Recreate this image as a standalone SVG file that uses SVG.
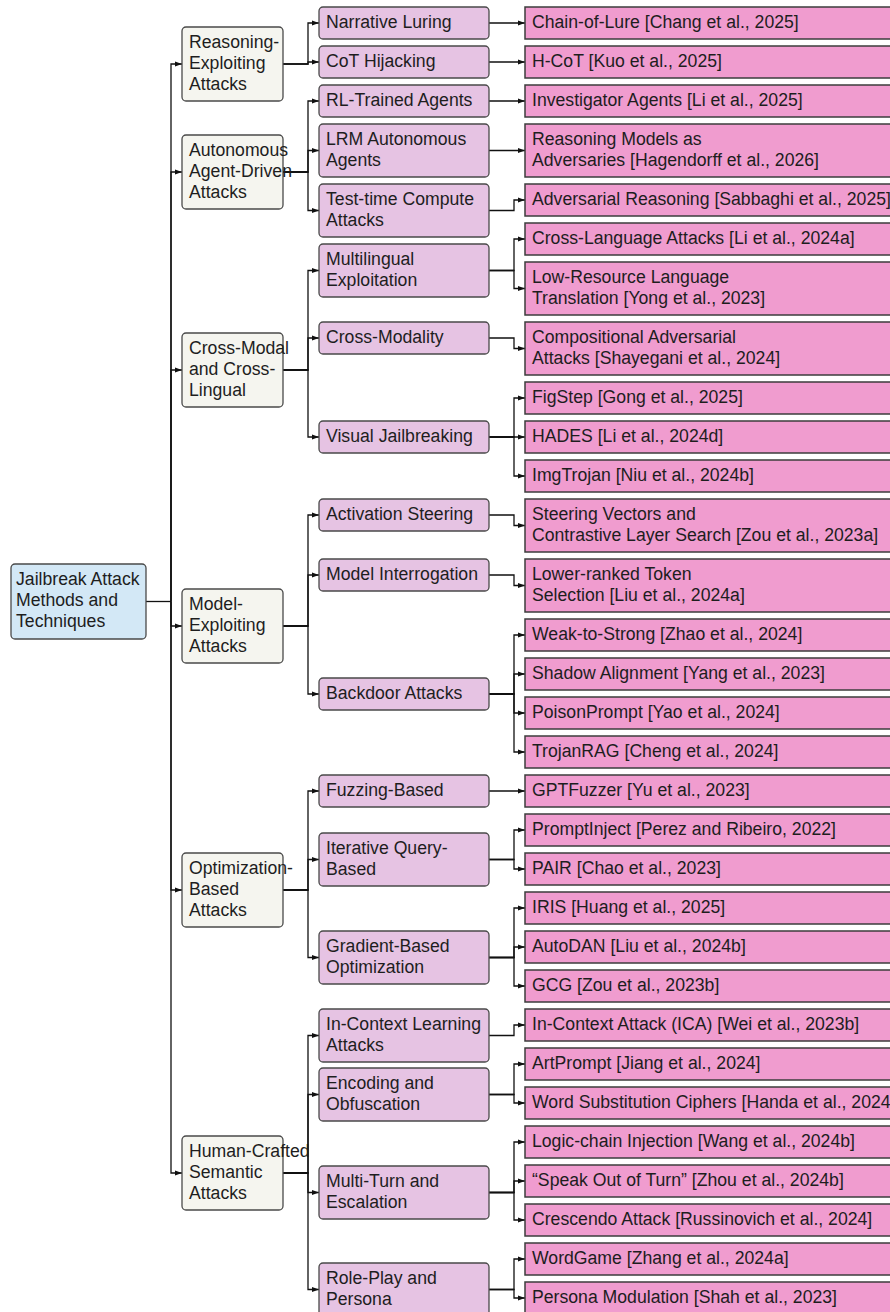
<svg xmlns="http://www.w3.org/2000/svg" width="890" height="1312" viewBox="0 0 890 1312">
<defs>
<marker id="ah" markerWidth="7" markerHeight="6" refX="7" refY="3" orient="auto" markerUnits="userSpaceOnUse"><path d="M0,0.5 L7,3 L0,5.5 z" fill="#111"/></marker>
<style>
text{font-family:"Liberation Sans",Arial,Helvetica,sans-serif;font-size:17.65px;fill:#1e1e1e}
rect{stroke:#4a4a4a;stroke-width:1.3}
.root rect{fill:#d3e8f6}
.l1 rect{fill:#f5f5ef}
.l2 rect{fill:#e6c3e3}
.leaf rect{fill:#f09ccf;stroke:#3c3c3c;stroke-width:1.5}
#connectors path{fill:none;stroke:#111;stroke-width:1.3;marker-end:url(#ah)}
#connectors path.nm{marker-end:none}
</style>
</defs>
<rect width="890" height="1312" fill="#fff" style="stroke:none"/>
<g id="connectors">
<path class="nm" d="M146,601.5 H171"/>
<path d="M171,601.5 V64 H182"/>
<path d="M171,601.5 V172 H182"/>
<path d="M171,601.5 V370 H182"/>
<path d="M171,601.5 V626 H182"/>
<path d="M171,601.5 V890 H182"/>
<path d="M171,601.5 V1173 H182"/>
<path d="M283,64 H308 V23 H319"/>
<path d="M283,64 H308 V62 H319"/>
<path d="M283,172 H308 V101 H319"/>
<path d="M283,172 H308 V150.5 H319"/>
<path d="M283,172 H308 V210.5 H319"/>
<path d="M283,370 H308 V270.5 H319"/>
<path d="M283,370 H308 V338 H319"/>
<path d="M283,370 H308 V437 H319"/>
<path d="M283,626 H308 V515 H319"/>
<path d="M283,626 H308 V575 H319"/>
<path d="M283,626 H308 V694 H319"/>
<path d="M283,890 H308 V791 H319"/>
<path d="M283,890 H308 V859.5 H319"/>
<path d="M283,890 H308 V957.5 H319"/>
<path d="M283,1173 H308 V1035.5 H319"/>
<path d="M283,1173 H308 V1094.5 H319"/>
<path d="M283,1173 H308 V1192.5 H319"/>
<path d="M283,1173 H308 V1289.5 H319"/>
<path d="M489,23 H514 V23 H525"/>
<path d="M489,62 H514 V62 H525"/>
<path d="M489,101 H514 V101 H525"/>
<path d="M489,150.5 H514 V150.5 H525"/>
<path d="M489,210.5 H514 V200 H525"/>
<path d="M489,270.5 H514 V239 H525"/>
<path d="M489,270.5 H514 V288.5 H525"/>
<path d="M489,338 H514 V348.5 H525"/>
<path d="M489,437 H514 V398 H525"/>
<path d="M489,437 H514 V437 H525"/>
<path d="M489,437 H514 V476 H525"/>
<path d="M489,515 H514 V525.5 H525"/>
<path d="M489,575 H514 V585.5 H525"/>
<path d="M489,694 H514 V635 H525"/>
<path d="M489,694 H514 V674 H525"/>
<path d="M489,694 H514 V713 H525"/>
<path d="M489,694 H514 V752 H525"/>
<path d="M489,791 H514 V791 H525"/>
<path d="M489,859.5 H514 V830 H525"/>
<path d="M489,859.5 H514 V869 H525"/>
<path d="M489,957.5 H514 V908 H525"/>
<path d="M489,957.5 H514 V947 H525"/>
<path d="M489,957.5 H514 V986 H525"/>
<path d="M489,1035.5 H514 V1025 H525"/>
<path d="M489,1094.5 H514 V1064 H525"/>
<path d="M489,1094.5 H514 V1103 H525"/>
<path d="M489,1192.5 H514 V1142 H525"/>
<path d="M489,1192.5 H514 V1181 H525"/>
<path d="M489,1192.5 H514 V1220 H525"/>
<path d="M489,1289.5 H514 V1259 H525"/>
<path d="M489,1289.5 H514 V1298 H525"/>
</g>
<g id="root" class="root"><rect x="11" y="564" width="135" height="75" rx="4"/><text x="16" y="585.3">Jailbreak Attack</text><text x="16" y="605.9">Methods and</text><text x="16" y="626.5">Techniques</text></g>
<g id="l1-reasoning" class="l1"><rect x="182" y="27" width="101" height="74" rx="4"/><text x="189" y="48.3">Reasoning-</text><text x="189" y="68.9">Exploiting</text><text x="189" y="89.5">Attacks</text></g>
<g id="l1-autonomous" class="l1"><rect x="182" y="135" width="101" height="74" rx="4"/><text x="189" y="156.3">Autonomous</text><text x="189" y="176.9">Agent-Driven</text><text x="189" y="197.5">Attacks</text></g>
<g id="l1-crossmodal" class="l1"><rect x="182" y="333" width="101" height="74" rx="4"/><text x="189" y="354.3">Cross-Modal</text><text x="189" y="374.9">and Cross-</text><text x="189" y="395.5">Lingual</text></g>
<g id="l1-model" class="l1"><rect x="182" y="589" width="101" height="74" rx="4"/><text x="189" y="610.3">Model-</text><text x="189" y="630.9">Exploiting</text><text x="189" y="651.5">Attacks</text></g>
<g id="l1-optim" class="l1"><rect x="182" y="853" width="101" height="74" rx="4"/><text x="189" y="874.3">Optimization-</text><text x="189" y="894.9">Based</text><text x="189" y="915.5">Attacks</text></g>
<g id="l1-human" class="l1"><rect x="182" y="1136" width="101" height="74" rx="4"/><text x="189" y="1157.3">Human-Crafted</text><text x="189" y="1177.9">Semantic</text><text x="189" y="1198.5">Attacks</text></g>
<g id="l2-narrative" class="l2"><rect x="319" y="7" width="170" height="32" rx="4"/><text x="326" y="28.3">Narrative Luring</text></g>
<g id="l2-cot" class="l2"><rect x="319" y="46" width="170" height="32" rx="4"/><text x="326" y="67.3">CoT Hijacking</text></g>
<g id="l2-rl" class="l2"><rect x="319" y="85" width="170" height="32" rx="4"/><text x="326" y="106.3">RL-Trained Agents</text></g>
<g id="l2-lrm" class="l2"><rect x="319" y="124" width="170" height="53" rx="4"/><text x="326" y="145.3">LRM Autonomous</text><text x="326" y="165.9">Agents</text></g>
<g id="l2-testtime" class="l2"><rect x="319" y="184" width="170" height="53" rx="4"/><text x="326" y="205.3">Test-time Compute</text><text x="326" y="225.9">Attacks</text></g>
<g id="l2-multilingual" class="l2"><rect x="319" y="244" width="170" height="53" rx="4"/><text x="326" y="265.3">Multilingual</text><text x="326" y="285.9">Exploitation</text></g>
<g id="l2-crossmodality" class="l2"><rect x="319" y="322" width="170" height="32" rx="4"/><text x="326" y="343.3">Cross-Modality</text></g>
<g id="l2-visual" class="l2"><rect x="319" y="421" width="170" height="32" rx="4"/><text x="326" y="442.3">Visual Jailbreaking</text></g>
<g id="l2-activation" class="l2"><rect x="319" y="499" width="170" height="32" rx="4"/><text x="326" y="520.3">Activation Steering</text></g>
<g id="l2-interrogation" class="l2"><rect x="319" y="559" width="170" height="32" rx="4"/><text x="326" y="580.3">Model Interrogation</text></g>
<g id="l2-backdoor" class="l2"><rect x="319" y="678" width="170" height="32" rx="4"/><text x="326" y="699.3">Backdoor Attacks</text></g>
<g id="l2-fuzzing" class="l2"><rect x="319" y="775" width="170" height="32" rx="4"/><text x="326" y="796.3">Fuzzing-Based</text></g>
<g id="l2-iterative" class="l2"><rect x="319" y="833" width="170" height="53" rx="4"/><text x="326" y="854.3">Iterative Query-</text><text x="326" y="874.9">Based</text></g>
<g id="l2-gradient" class="l2"><rect x="319" y="931" width="170" height="53" rx="4"/><text x="326" y="952.3">Gradient-Based</text><text x="326" y="972.9">Optimization</text></g>
<g id="l2-icl" class="l2"><rect x="319" y="1009" width="170" height="53" rx="4"/><text x="326" y="1030.3">In-Context Learning</text><text x="326" y="1050.9">Attacks</text></g>
<g id="l2-encoding" class="l2"><rect x="319" y="1068" width="170" height="53" rx="4"/><text x="326" y="1089.3">Encoding and</text><text x="326" y="1109.9">Obfuscation</text></g>
<g id="l2-multiturn" class="l2"><rect x="319" y="1166" width="170" height="53" rx="4"/><text x="326" y="1187.3">Multi-Turn and</text><text x="326" y="1207.9">Escalation</text></g>
<g id="l2-roleplay" class="l2"><rect x="319" y="1263" width="170" height="53" rx="4"/><text x="326" y="1284.3">Role-Play and</text><text x="326" y="1304.9">Persona</text></g>
<g id="leaf-chainoflure" class="leaf"><rect x="525" y="7" width="380" height="32"/><text x="532" y="28.3">Chain-of-Lure [Chang et al., 2025]</text></g>
<g id="leaf-hcot" class="leaf"><rect x="525" y="46" width="380" height="32"/><text x="532" y="67.3">H-CoT [Kuo et al., 2025]</text></g>
<g id="leaf-investigator" class="leaf"><rect x="525" y="85" width="380" height="32"/><text x="532" y="106.3">Investigator Agents [Li et al., 2025]</text></g>
<g id="leaf-reasoningmodels" class="leaf"><rect x="525" y="124" width="380" height="53"/><text x="532" y="145.3">Reasoning Models as</text><text x="532" y="165.9">Adversaries [Hagendorff et al., 2026]</text></g>
<g id="leaf-advreasoning" class="leaf"><rect x="525" y="184" width="380" height="32"/><text x="532" y="205.3">Adversarial Reasoning [Sabbaghi et al., 2025]</text></g>
<g id="leaf-crosslang" class="leaf"><rect x="525" y="223" width="380" height="32"/><text x="532" y="244.3">Cross-Language Attacks [Li et al., 2024a]</text></g>
<g id="leaf-lowresource" class="leaf"><rect x="525" y="262" width="380" height="53"/><text x="532" y="283.3">Low-Resource Language</text><text x="532" y="303.9">Translation [Yong et al., 2023]</text></g>
<g id="leaf-compositional" class="leaf"><rect x="525" y="322" width="380" height="53"/><text x="532" y="343.3">Compositional Adversarial</text><text x="532" y="363.9">Attacks [Shayegani et al., 2024]</text></g>
<g id="leaf-figstep" class="leaf"><rect x="525" y="382" width="380" height="32"/><text x="532" y="403.3">FigStep [Gong et al., 2025]</text></g>
<g id="leaf-hades" class="leaf"><rect x="525" y="421" width="380" height="32"/><text x="532" y="442.3">HADES [Li et al., 2024d]</text></g>
<g id="leaf-imgtrojan" class="leaf"><rect x="525" y="460" width="380" height="32"/><text x="532" y="481.3">ImgTrojan [Niu et al., 2024b]</text></g>
<g id="leaf-steering" class="leaf"><rect x="525" y="499" width="380" height="53"/><text x="532" y="520.3">Steering Vectors and</text><text x="532" y="540.9">Contrastive Layer Search [Zou et al., 2023a]</text></g>
<g id="leaf-lowerranked" class="leaf"><rect x="525" y="559" width="380" height="53"/><text x="532" y="580.3">Lower-ranked Token</text><text x="532" y="600.9">Selection [Liu et al., 2024a]</text></g>
<g id="leaf-weaktostrong" class="leaf"><rect x="525" y="619" width="380" height="32"/><text x="532" y="640.3">Weak-to-Strong [Zhao et al., 2024]</text></g>
<g id="leaf-shadow" class="leaf"><rect x="525" y="658" width="380" height="32"/><text x="532" y="679.3">Shadow Alignment [Yang et al., 2023]</text></g>
<g id="leaf-poisonprompt" class="leaf"><rect x="525" y="697" width="380" height="32"/><text x="532" y="718.3">PoisonPrompt [Yao et al., 2024]</text></g>
<g id="leaf-trojanrag" class="leaf"><rect x="525" y="736" width="380" height="32"/><text x="532" y="757.3">TrojanRAG [Cheng et al., 2024]</text></g>
<g id="leaf-gptfuzzer" class="leaf"><rect x="525" y="775" width="380" height="32"/><text x="532" y="796.3">GPTFuzzer [Yu et al., 2023]</text></g>
<g id="leaf-promptinject" class="leaf"><rect x="525" y="814" width="380" height="32"/><text x="532" y="835.3">PromptInject [Perez and Ribeiro, 2022]</text></g>
<g id="leaf-pair" class="leaf"><rect x="525" y="853" width="380" height="32"/><text x="532" y="874.3">PAIR [Chao et al., 2023]</text></g>
<g id="leaf-iris" class="leaf"><rect x="525" y="892" width="380" height="32"/><text x="532" y="913.3">IRIS [Huang et al., 2025]</text></g>
<g id="leaf-autodan" class="leaf"><rect x="525" y="931" width="380" height="32"/><text x="532" y="952.3">AutoDAN [Liu et al., 2024b]</text></g>
<g id="leaf-gcg" class="leaf"><rect x="525" y="970" width="380" height="32"/><text x="532" y="991.3">GCG [Zou et al., 2023b]</text></g>
<g id="leaf-ica" class="leaf"><rect x="525" y="1009" width="380" height="32"/><text x="532" y="1030.3">In-Context Attack (ICA) [Wei et al., 2023b]</text></g>
<g id="leaf-artprompt" class="leaf"><rect x="525" y="1048" width="380" height="32"/><text x="532" y="1069.3">ArtPrompt [Jiang et al., 2024]</text></g>
<g id="leaf-wordsub" class="leaf"><rect x="525" y="1087" width="380" height="32"/><text x="532" y="1108.3">Word Substitution Ciphers [Handa et al., 2024]</text></g>
<g id="leaf-logicchain" class="leaf"><rect x="525" y="1126" width="380" height="32"/><text x="532" y="1147.3">Logic-chain Injection [Wang et al., 2024b]</text></g>
<g id="leaf-speakout" class="leaf"><rect x="525" y="1165" width="380" height="32"/><text x="532" y="1186.3">“Speak Out of Turn” [Zhou et al., 2024b]</text></g>
<g id="leaf-crescendo" class="leaf"><rect x="525" y="1204" width="380" height="32"/><text x="532" y="1225.3">Crescendo Attack [Russinovich et al., 2024]</text></g>
<g id="leaf-wordgame" class="leaf"><rect x="525" y="1243" width="380" height="32"/><text x="532" y="1264.3">WordGame [Zhang et al., 2024a]</text></g>
<g id="leaf-persona" class="leaf"><rect x="525" y="1282" width="380" height="32"/><text x="532" y="1303.3">Persona Modulation [Shah et al., 2023]</text></g>
</svg>
